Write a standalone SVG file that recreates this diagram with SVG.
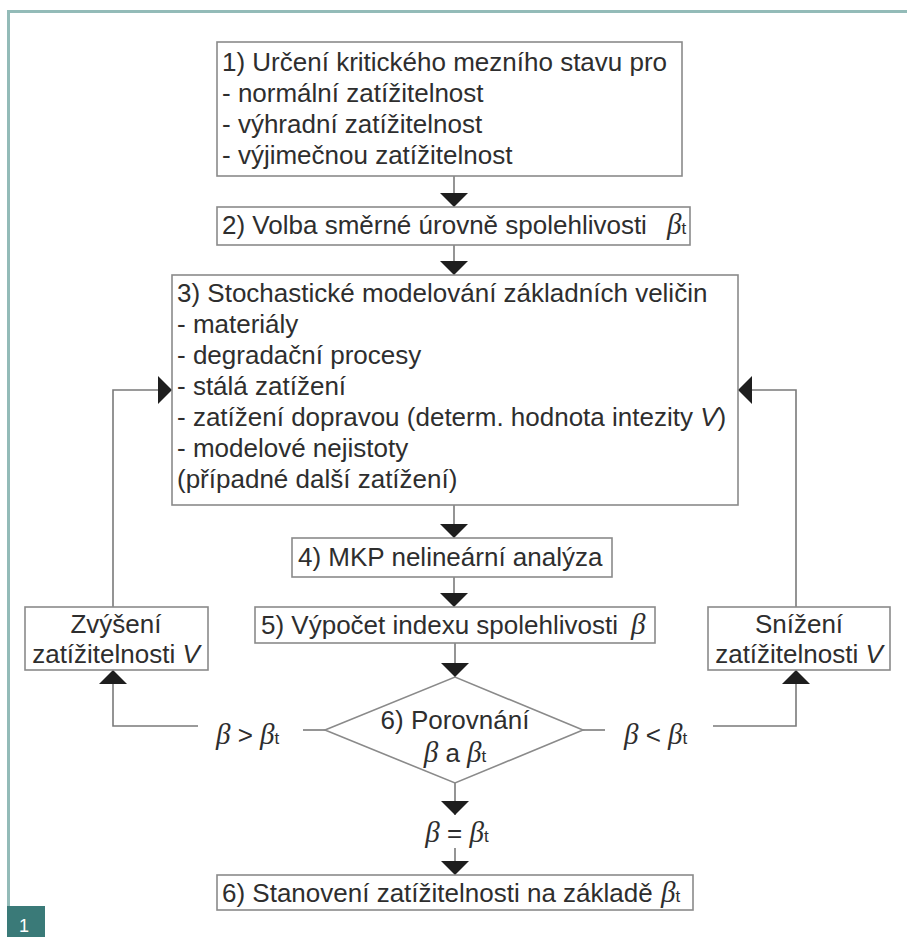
<svg xmlns="http://www.w3.org/2000/svg" width="907" height="937" viewBox="0 0 907 937">
<style>
.frame{stroke:#93bbb8;stroke-width:3;fill:none}
.box{fill:#fff;stroke:#8a8a8a;stroke-width:1.6}
.t{font-family:"Liberation Sans",Arial,sans-serif;font-size:26px;fill:#2e2e2e}
.b{font-family:"Liberation Serif","Times New Roman",serif;font-style:italic;font-size:29px}
.s{font-size:17px;font-style:normal;font-family:"Liberation Sans",Arial,sans-serif}
.i{font-style:italic}
.c{stroke:#7a7a7a;stroke-width:1.6;fill:none}
.a{marker-end:url(#ah)}
.badge{font-family:"Liberation Sans",Arial,sans-serif;font-size:18px;fill:#fff}
</style>
<defs>
<marker id="ah" viewBox="0 0 14 28" refX="14" refY="14" markerWidth="14" markerHeight="28" markerUnits="userSpaceOnUse" orient="auto">
<path d="M0,0 L14,14 L0,28 z" fill="#1e1e1e"/>
</marker>
</defs>
<rect width="907" height="937" fill="#fff"/>
<path class="frame" d="M8.5,906 V11.5 H907"/>
<rect x="7" y="906" width="38" height="31" fill="#3a7a78"/>
<text class="badge" x="24" y="932" text-anchor="middle">1</text>

<g id="connectors">
<path class="c a" d="M454,176 V207"/>
<path class="c a" d="M454,245 V275"/>
<path class="c a" d="M454,505 V538"/>
<path class="c a" d="M454,577 V607"/>
<path class="c a" d="M455,643 V677"/>
<path class="c a" d="M455,783 V815"/>
<path class="c a" d="M455,848 V875"/>
<path class="c a" d="M198,726 H113 V670"/>
<path class="c a" d="M113,607 V390 H172"/>
<path class="c a" d="M713,726 H796 V670"/>
<path class="c a" d="M796,607 V390 H738"/>
<path class="c" d="M303,730 H325"/>
<path class="c" d="M583,730 H605"/>
</g>

<g id="n1">
<rect class="box" x="217" y="42" width="465" height="134"/>
<text class="t" x="222" y="71">1) Určení kritického mezního stavu pro</text>
<text class="t" x="222" y="102">- normální zatížitelnost</text>
<text class="t" x="222" y="133">- výhradní zatížitelnost</text>
<text class="t" x="222" y="164">- výjimečnou zatížitelnost</text>
</g>

<g id="n2">
<rect class="box" x="217" y="207" width="473" height="38"/>
<text class="t" x="222" y="234">2) Volba směrné úrovně spolehlivosti</text>
<text class="t" x="667" y="234"><tspan class="b">β</tspan><tspan class="s">t</tspan></text>
</g>

<g id="n3">
<rect class="box" x="172" y="275" width="566" height="230"/>
<text class="t" x="177" y="302">3) Stochastické modelování základních veličin</text>
<text class="t" x="177" y="333">- materiály</text>
<text class="t" x="177" y="364">- degradační procesy</text>
<text class="t" x="177" y="395">- stálá zatížení</text>
<text class="t" x="177" y="426">- zatížení dopravou (determ. hodnota intezity <tspan class="i">V</tspan>)</text>
<text class="t" x="177" y="457">- modelové nejistoty</text>
<text class="t" x="177" y="488">(případné další zatížení)</text>
</g>

<g id="n4">
<rect class="box" x="292" y="538" width="320" height="39"/>
<text class="t" x="298" y="566">4) MKP nelineární analýza</text>
</g>

<g id="n5">
<rect class="box" x="255" y="607" width="400" height="36"/>
<text class="t" x="261" y="634">5) Výpočet indexu spolehlivosti</text>
<text class="t" x="631" y="634"><tspan class="b">β</tspan></text>
</g>

<g id="n_zvyseni">
<rect class="box" x="25" y="607" width="183" height="63"/>
<text class="t" x="116" y="633" text-anchor="middle">Zvýšení</text>
<text class="t" x="116" y="663" text-anchor="middle">zatížitelnosti <tspan class="i">V</tspan></text>
</g>

<g id="n_snizeni">
<rect class="box" x="708" y="607" width="182" height="63"/>
<text class="t" x="799" y="633" text-anchor="middle">Snížení</text>
<text class="t" x="799" y="663" text-anchor="middle">zatížitelnosti <tspan class="i">V</tspan></text>
</g>

<g id="n6">
<polygon class="box" points="325,730 455,677 583,730 455,783"/>
<text class="t" x="455" y="729" text-anchor="middle">6) Porovnání</text>
<text class="t" x="455" y="762" text-anchor="middle"><tspan class="b">β</tspan> a <tspan class="b">β</tspan><tspan class="s">t</tspan></text>
</g>

<g id="labels">
<text class="t" x="216" y="744"><tspan class="b">β</tspan> &gt; <tspan class="b">β</tspan><tspan class="s">t</tspan></text>
<text class="t" x="624" y="744"><tspan class="b">β</tspan> &lt; <tspan class="b">β</tspan><tspan class="s">t</tspan></text>
<text class="t" x="457" y="842" text-anchor="middle"><tspan class="b">β</tspan> = <tspan class="b">β</tspan><tspan class="s">t</tspan></text>
</g>

<g id="n7">
<rect class="box" x="217" y="875" width="476" height="35"/>
<text class="t" x="222" y="902">6) Stanovení zatížitelnosti na základě</text>
<text class="t" x="661" y="902"><tspan class="b">β</tspan><tspan class="s">t</tspan></text>
</g>
</svg>
